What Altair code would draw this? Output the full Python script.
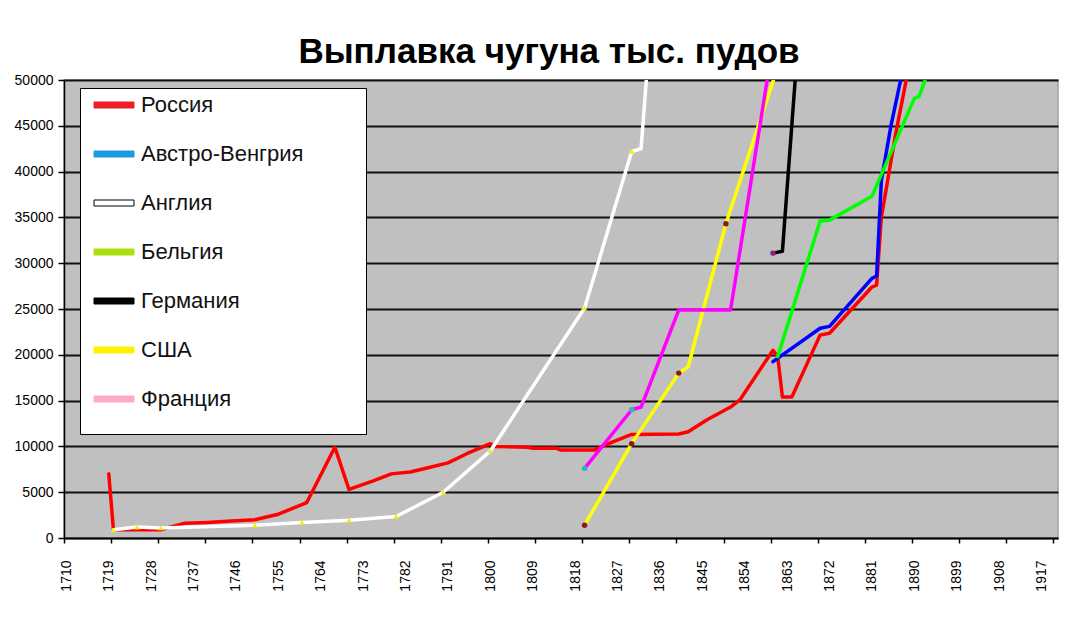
import altair as alt
import pandas as pd

TITLE = "Выплавка чугуна тыс. пудов"
SERIES = ["Россия", "Австро-Венгрия", "Англия", "Бельгия", "Германия", "США", "Франция"]

RU_YEARS = [1719, 1720, 1730, 1735, 1740, 1745, 1750, 1755, 1761, 1767, 1770, 1775, 1779, 1783,
            1787, 1791, 1795, 1800, 1801, 1808, 1809, 1814, 1815, 1822, 1826, 1830, 1840, 1842,
            1846, 1851, 1853, 1860, 1861, 1862, 1864, 1870, 1872, 1881, 1882, 1883, 1886, 1890]
RU_VALUES = [7000, 900, 900, 1600, 1700, 1850, 2000, 2600, 3850, 9900, 5300, 6200, 7000, 7200,
             7700, 8200, 9200, 10300, 10000, 9900, 9800, 9800, 9600, 9600, 10500, 11300, 11350, 11600,
             12900, 14300, 15100, 20500, 19800, 15400, 15400, 22150, 22350, 27400, 27600, 35000, 44000, 54500]

AH_YEARS = [1860, 1870, 1872, 1881, 1882, 1883, 1885, 1889]
AH_VALUES = [19250, 22900, 23100, 28350, 28600, 39000, 44900, 54600]

EN_YEARS = [1720, 1725, 1730, 1750, 1760, 1770, 1780, 1790, 1800, 1820, 1830, 1832, 1834]
EN_VALUES = [900, 1200, 1100, 1400, 1700, 1950, 2350, 5000, 9500, 25100, 42200, 42500, 56000]

BE_YEARS = [1861, 1870, 1872, 1881, 1890, 1891, 1893, 1894]
BE_VALUES = [19800, 34600, 34700, 37300, 48000, 48200, 51000, 56000]

DE_YEARS = [1860, 1862, 1865]
DE_VALUES = [31100, 31300, 52000]

US_YEARS = [1820, 1830, 1840, 1842, 1850, 1861]
US_VALUES = [1400, 10300, 18000, 18700, 34300, 51400]

FR_YEARS = [1820, 1830, 1832, 1840, 1851, 1860]
FR_VALUES = [7600, 14000, 14300, 24900, 24900, 54000]

YEARS = [RU_YEARS, AH_YEARS, EN_YEARS, BE_YEARS, DE_YEARS, US_YEARS, FR_YEARS]
VALUES = [RU_VALUES, AH_VALUES, EN_VALUES, BE_VALUES, DE_VALUES, US_VALUES, FR_VALUES]

# point markers drawn on some series
MARKER_YEARS = {
    "Англия": [1720, 1725, 1730, 1750, 1760, 1770, 1780, 1790, 1800, 1820, 1830],
    "США": [1820, 1830, 1840, 1850],
    "Франция": [1820, 1830],
    "Германия": [1860],
}
MARKER_COLOR = {"Англия": "#F5F000", "США": "#8B1A1A", "Франция": "#30B8B8", "Германия": "#8A208A"}
MARKER_SHAPE = {"Англия": "triangle-up", "США": "circle", "Франция": "circle", "Германия": "circle"}

LINE_COLORS = ["#FF0000", "#0000FF", "#FFFFFF", "#00FF00", "#000000", "#FFFF00", "#FF00FF"]
LEGEND_FILL = ["#EE1C24", "#1E9BE0", "#FFFFFF", "#A8E010", "#000000", "#FFF200", "#FFA8C8"]
LEGEND_OUTLINE = ["#EE1C24", "#1E9BE0", "#000000", "#A8E010", "#000000", "#FFF200", "#FFA8C8"]
LINE_WIDTHS = [3.5, 3.5, 2, 2, 2.5, 2.5, 2.5]

Y_TICKS = list(range(0, 50001, 5000))
X_LABEL_YEARS = list(range(1710, 1918, 9))
X_TICK_POS = [1709.5 + 10 * i for i in range(22)]

FONT = "Liberation Sans"

rows = []
for name, yrs, vals in zip(SERIES, YEARS, VALUES):
    for yr, v in zip(yrs, vals):
        rows.append({"series": name, "year": yr, "value": v})
df = pd.DataFrame(rows)

mrows = []
for name, yrs in MARKER_YEARS.items():
    lookup = dict(zip(YEARS[SERIES.index(name)], VALUES[SERIES.index(name)]))
    for yr in yrs:
        mrows.append({"series": name, "year": yr, "value": lookup[yr],
                      "mcolor": MARKER_COLOR[name], "mshape": MARKER_SHAPE[name]})
dfm = pd.DataFrame(mrows)

x_axis = alt.Axis(
    values=X_LABEL_YEARS + X_TICK_POS,
    labelExpr="datum.value % 1 == 0 ? datum.label : ''",
    format="d", labelAngle=-90, labelFontSize=14, labelFont=FONT, labelColor="black",
    labelPadding=17, labelOverlap=False, labelFlush=False, labelBound=False,
    tickSize=5, tickWidth=1.5,
    tickColor={"condition": {"test": "datum.value % 1 != 0", "value": "black"}, "value": "transparent"},
    domainColor="black", domainWidth=1.5, grid=False, title=None,
)
y_axis = alt.Axis(
    values=Y_TICKS, format="d", labelFontSize=14, labelFont=FONT, labelColor="black",
    labelPadding=5, labelFlush=False, tickSize=6, tickColor="black", tickWidth=1.5,
    domainColor="black", domainWidth=1.5, grid=True, gridColor="#111111", gridWidth=2, title=None,
)

X = alt.X("year:Q", scale=alt.Scale(domain=[1709.5, 1920.5], nice=False, zero=False), axis=x_axis)
Y = alt.Y("value:Q", scale=alt.Scale(domain=[0, 50000], nice=False, zero=True), axis=y_axis)

# line scales take their domain from the data (sorted in series order)
lines = alt.Chart(df).mark_line(clip=True, strokeJoin="round", strokeCap="round").encode(
    x=X, y=Y,
    color=alt.Color("series:N", sort=SERIES, scale=alt.Scale(range=LINE_COLORS), legend=None),
    strokeWidth=alt.StrokeWidth("series:N", sort=SERIES, scale=alt.Scale(range=LINE_WIDTHS), legend=None),
)

markers = alt.Chart(dfm).mark_point(filled=True, size=30, opacity=1, clip=True).encode(
    x=X, y=Y,
    color=alt.Color("mcolor:N", scale=None),
    shape=alt.Shape("mshape:N", scale=None),
)

# blank spacer title (braille blank glyphs, clipped by titleLimit) gives the legend box its size
LEG = alt.Legend(
    title="\u2800" * 200, titleOrient="bottom", titleFontSize=14, titlePadding=4,
    titleColor="white", titleLimit=278,
    orient="none", legendX=16, legendY=8,
    symbolType="M-2,-0.3H2V0.3H-2Z", symbolSize=400, symbolStrokeWidth=1, symbolOpacity=1,
    symbolOffset=17, labelOffset=16,
    labelFont=FONT, labelFontSize=22, labelColor="#111111", labelLimit=400,
    padding=6, rowPadding=27, fillColor="white", strokeColor="black",
)

legend_layer = alt.Chart(df).mark_point(filled=True, size=0, clip=True).encode(
    x=X, y=Y,
    fill=alt.Fill("series:N", scale=alt.Scale(domain=SERIES, range=LEGEND_FILL), legend=LEG),
    stroke=alt.Stroke("series:N", scale=alt.Scale(domain=SERIES, range=LEGEND_OUTLINE), legend=LEG),
)

chart = alt.layer(lines, markers, legend_layer).properties(
    width=994, height=458,
    title=alt.TitleParams(TITLE, font=FONT, fontSize=35, fontWeight="bold", color="black",
                          anchor="middle", frame="group", dx=-12, offset=3),
    autosize=alt.AutoSizeParams(type="none"),
    padding={"left": 56, "top": 72, "right": 14, "bottom": 70},
).configure_view(fill="#C0C0C0", stroke="#A0A0A0", strokeWidth=1.5)

chart.save("out.html", embed_options={"renderer": "svg", "actions": False})
